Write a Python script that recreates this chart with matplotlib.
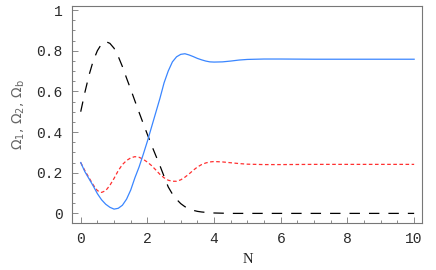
import matplotlib
matplotlib.use("Agg")
import matplotlib.pyplot as plt
from matplotlib.ticker import MultipleLocator, FixedLocator

# e-folds N and density parameters
N = [0, 0.125, 0.25, 0.375, 0.5, 0.625, 0.75, 0.875, 1.0, 1.125, 1.25, 1.375,
     1.5, 1.625, 1.75, 1.875, 2.0, 2.125, 2.25, 2.375, 2.5, 2.625, 2.75, 2.875,
     3.0, 3.125, 3.25, 3.375, 3.5, 3.625, 3.75, 3.875, 4.0, 4.25, 4.5, 4.75,
     5.0, 5.5, 6, 7, 8, 9, 10]
omega_1 = [0.25, 0.205, 0.17, 0.135, 0.097, 0.067, 0.045, 0.03, 0.021, 0.025, 0.04, 0.07,
           0.115, 0.175, 0.228, 0.29, 0.355, 0.425, 0.495, 0.565, 0.642, 0.70, 0.745, 0.77,
           0.782, 0.785, 0.779, 0.771, 0.762, 0.755, 0.749, 0.745, 0.744, 0.745, 0.749, 0.754,
           0.757, 0.759, 0.759, 0.758, 0.758, 0.758, 0.758]
omega_2 = [0.25, 0.21, 0.175, 0.14, 0.112, 0.103, 0.112, 0.138, 0.172, 0.21, 0.24, 0.26,
           0.273, 0.279, 0.276, 0.266, 0.252, 0.235, 0.214, 0.192, 0.175, 0.163, 0.158, 0.158,
           0.165, 0.178, 0.194, 0.212, 0.228, 0.24, 0.248, 0.253, 0.255, 0.253, 0.249, 0.245,
           0.242, 0.240, 0.240, 0.241, 0.241, 0.241, 0.241]
omega_b = [0.50, 0.595, 0.68, 0.75, 0.80, 0.833, 0.845, 0.836, 0.812, 0.772, 0.722, 0.665,
           0.61, 0.553, 0.497, 0.442, 0.388, 0.335, 0.285, 0.235, 0.182, 0.13, 0.095, 0.069,
           0.048, 0.033, 0.023, 0.015, 0.01, 0.007, 0.005, 0.003, 0.002, 0.001, 0, 0,
           0, 0, 0, 0, 0, 0, 0]

plt.rcParams['lines.scale_dashes'] = False

fig = plt.figure(figsize=(4.36, 2.70), dpi=100)
ax = fig.add_axes([0.166, 0.175, 0.803, 0.803])

ax.plot(N, omega_b, color='black', lw=0.9, dashes=(7.5, 6.5))
ax.plot(N, omega_2, color='#ff3030', lw=0.9, dashes=(2.6, 1.8))
ax.plot(N, omega_1, color='#3a86ff', lw=0.9)

ax.set_xlim(-0.25, 10.25)
ax.set_ylim(-0.046, 1.02)

ax.xaxis.set_major_locator(FixedLocator([0, 2, 4, 6, 8, 10]))
ax.xaxis.set_minor_locator(MultipleLocator(0.5))
ax.yaxis.set_major_locator(FixedLocator([0, 0.2, 0.4, 0.6, 0.8, 1.0]))
ax.yaxis.set_minor_locator(MultipleLocator(0.05))
ax.set_xticklabels(['0', '2', '4', '6', '8', '10'])
ax.set_yticklabels(['0', '0.2', '0.4', '0.6', '0.8', '1'])

ax.tick_params(which='both', direction='in', top=False, right=False,
               color='#777777', width=0.6)
ax.tick_params(which='major', length=4, pad=7, labelsize=10.5, labelcolor='#2a2a2a')
ax.tick_params(which='minor', length=2)
for lab in ax.get_xticklabels() + ax.get_yticklabels():
    lab.set_family('Liberation Mono')
for sp in ax.spines.values():
    sp.set_color('#777777')
    sp.set_linewidth(0.8)

ax.set_xlabel('N', family='Liberation Serif', fontsize=10.5, color='#222222', labelpad=5)
ax.set_ylabel(r'$\Omega_1$, $\Omega_2$, $\Omega_\mathrm{b}$', fontsize=10,
              color='#666666', labelpad=7)

fig.savefig('out.png', dpi=100)
